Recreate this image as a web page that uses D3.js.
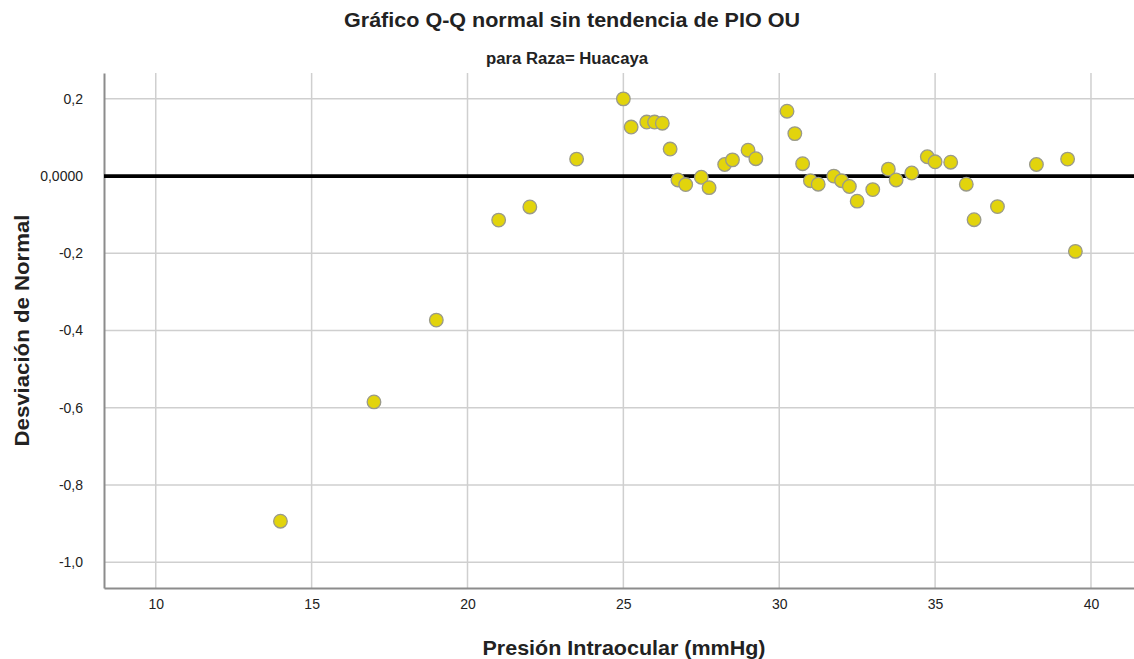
<!DOCTYPE html>
<html>
<head>
<meta charset="utf-8">
<script src="https://cdn.jsdelivr.net/npm/d3@7"></script>
<style>
  body { margin: 0; background: #fff; }
  text { font-family: "Liberation Sans", Arial, sans-serif; }
</style>
</head>
<body>
<div id="chart"></div>
<script>
const WIDTH = 1134
const HEIGHT = 659

// observed PIO OU values (mmHg) and their deviation from normal
const pio = [14, 17, 19, 21, 22, 23.5, 25, 25.25, 25.75, 26, 26.25, 26.5, 26.75, 27, 27.5, 27.75,
    28.25, 28.5, 29, 29.25, 30.25, 30.5, 30.75, 31, 31.25, 31.75, 32, 32.25, 32.5, 33, 33.5, 33.75,
    34.25, 34.75, 35, 35.5, 36, 36.25, 37, 38.25, 39.25, 39.5];
const desv = [-0.894, -0.585, -0.373, -0.114, -0.080, 0.044, 0.200, 0.127, 0.140, 0.140, 0.137, 0.070, -0.010, -0.022, -0.003, -0.030,
    0.030, 0.042, 0.067, 0.045, 0.168, 0.110, 0.032, -0.012, -0.021, 0.000, -0.012, -0.027, -0.065, -0.035, 0.018, -0.010,
    0.008, 0.050, 0.037, 0.036, -0.021, -0.113, -0.079, 0.030, 0.044, -0.195];

const xTicks = [10, 15, 20, 25, 30, 35, 40];
const yTicks = [0.2, 0, -0.2, -0.4, -0.6, -0.8, -1.0];

const M = {left: 104, top: 73, right: 1134, bottom: 588};

var svg = d3.select("#chart").append("svg")
    .attr("width", WIDTH)
    .attr("height", HEIGHT);

var xScale = d3.scaleLinear()
    .domain([8.34, 41.38])
    .range([M.left, M.right]);

var yScale = d3.scaleLinear()
    .domain([-1.067, 0.267])
    .range([M.bottom, M.top]);

// grid lines
svg.append("g").selectAll("line")
    .data(xTicks)
    .enter().append("line")
    .attr("x1", d => xScale(d)).attr("x2", d => xScale(d))
    .attr("y1", M.top).attr("y2", M.bottom)
    .attr("stroke", "#cfcfcf")
    .attr("stroke-width", 1.5);

svg.append("g").selectAll("line")
    .data(yTicks.filter(d => d !== 0))
    .enter().append("line")
    .attr("x1", M.left).attr("x2", M.right)
    .attr("y1", d => yScale(d)).attr("y2", d => yScale(d))
    .attr("stroke", "#cfcfcf")
    .attr("stroke-width", 1.5);

// axes
var xAxis = svg.append("g")
    .attr("transform", `translate(0,${M.bottom})`)
    .call(d3.axisBottom(xScale).tickValues(xTicks).tickSize(0).tickPadding(11));
var yAxis = svg.append("g")
    .attr("transform", `translate(${M.left},0)`)
    .call(d3.axisLeft(yScale).tickValues(yTicks).tickSize(0).tickPadding(21)
        .tickFormat(d => d === 0 ? "0,0000" : d3.format(".1f")(d).replace(".", ",").replace("−", "-")));

[xAxis, yAxis].forEach(a => {
    a.select(".domain").attr("stroke", "#8c8c8c").attr("stroke-width", 2);
    a.selectAll("text")
        .attr("font-family", "'Liberation Sans', sans-serif")
        .attr("font-size", "14px")
        .attr("fill", "#222");
});

// reference line at zero
svg.append("line")
    .attr("x1", M.left).attr("x2", M.right)
    .attr("y1", yScale(0)).attr("y2", yScale(0))
    .attr("stroke", "#000")
    .attr("stroke-width", 3.8);

// points
svg.append("g").selectAll("circle")
    .data(pio)
    .enter().append("circle")
    .attr("cx", d => xScale(d))
    .attr("cy", (d, i) => yScale(desv[i]))
    .attr("r", 6.8)
    .attr("fill", "#e2d40c")
    .attr("stroke", "#9a9a8a")
    .attr("stroke-width", 1.3);

// titles
svg.append("text")
    .attr("x", 572).attr("y", 27)
    .attr("text-anchor", "middle")
    .attr("font-weight", "bold")
    .attr("font-size", "20px")
    .attr("textLength", 456)
    .attr("lengthAdjust", "spacingAndGlyphs")
    .attr("fill", "#222")
    .text("Gráfico Q-Q normal sin tendencia de PIO OU");

svg.append("text")
    .attr("x", 567).attr("y", 64)
    .attr("text-anchor", "middle")
    .attr("font-weight", "bold")
    .attr("font-size", "16px")
    .attr("textLength", 162)
    .attr("lengthAdjust", "spacingAndGlyphs")
    .attr("fill", "#222")
    .text("para Raza= Huacaya");

svg.append("text")
    .attr("x", 624).attr("y", 655)
    .attr("text-anchor", "middle")
    .attr("font-weight", "bold")
    .attr("font-size", "21px")
    .attr("textLength", 283)
    .attr("lengthAdjust", "spacingAndGlyphs")
    .attr("fill", "#222")
    .text("Presión Intraocular (mmHg)");

svg.append("text")
    .attr("transform", `translate(29,${(M.top + M.bottom) / 2}) rotate(-90)`)
    .attr("text-anchor", "middle")
    .attr("font-weight", "bold")
    .attr("font-size", "21px")
    .attr("textLength", 232)
    .attr("lengthAdjust", "spacingAndGlyphs")
    .attr("fill", "#222")
    .text("Desviación de Normal");
</script>
</body>
</html>
